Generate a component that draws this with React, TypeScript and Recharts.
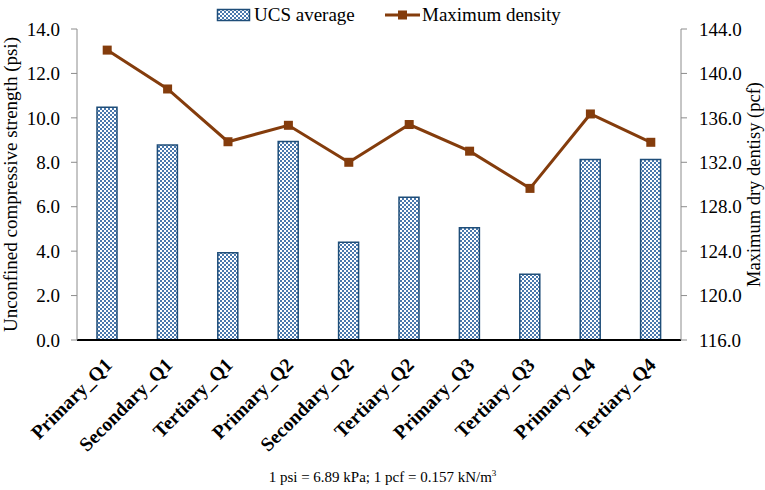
import { Bar, ComposedChart, Legend, Line, XAxis, YAxis } from "recharts";

const categories = [
  "Primary_Q1",
  "Secondary_Q1",
  "Tertiary_Q1",
  "Primary_Q2",
  "Secondary_Q2",
  "Tertiary_Q2",
  "Primary_Q3",
  "Tertiary_Q3",
  "Primary_Q4",
  "Tertiary_Q4",
];
const ucsAverage = [10.48, 8.78, 3.93, 8.94, 4.4, 6.43, 5.05, 2.96, 8.13, 8.13];
const maxDensity = [142.1, 138.6, 133.85, 135.33, 132.0, 135.4, 133.0, 129.65, 136.35, 133.8];
const leftTicks = [0, 2, 4, 6, 8, 10, 12, 14];
const rightTicks = [116, 120, 124, 128, 132, 136, 140, 144];

const data = categories.map((name, i) => ({
  name,
  ucs: ucsAverage[i],
  density: maxDensity[i],
}));

const FONT = "Liberation Serif, Times New Roman, serif";
const BAR_EDGE = "#1f4e79";
const BAR_DOT = "#4a78ad";
const LINE_COLOR = "#843c0c";
const AXIS_GRAY = "#8c8c8c";

function HatchDefs({ id }: { id: string }) {
  return (
    <defs>
      <pattern id={id} width="4" height="4" patternUnits="userSpaceOnUse">
        <rect width="4" height="4" fill="#ffffff" />
        <rect x="0" y="0" width="2" height="2" fill={BAR_DOT} />
        <rect x="2" y="2" width="2" height="2" fill={BAR_DOT} />
      </pattern>
    </defs>
  );
}

function SquareDot(props: any) {
  const { cx, cy, index } = props;
  if (cx == null || cy == null) return <g key={index} />;
  return <rect key={index} x={cx - 4.5} y={cy - 4.5} width={9} height={9} fill={LINE_COLOR} />;
}

function XTick(props: any) {
  const { x, y, payload } = props;
  const tx = x + 6;
  const ty = y + 18;
  return (
    <text
      x={tx}
      y={ty}
      transform={`rotate(-45, ${tx}, ${ty})`}
      textAnchor="end"
      fontFamily={FONT}
      fontWeight="bold"
      fontSize={19.5}
      fill="#000"
    >
      {payload.value}
    </text>
  );
}

function LegendBox() {
  return (
    <div style={{ position: "relative", width: 765, height: 26, fontFamily: FONT, fontSize: 19 }}>
      <svg width={765} height={26} style={{ position: "absolute", left: 0, top: 0 }}>
        <HatchDefs id="legendHatch" />
        <rect x={217.5} y={6.5} width={32} height={11} fill="url(#legendHatch)" stroke={BAR_EDGE} strokeWidth={1.5} />
        <line x1={385} y1={12} x2={420} y2={12} stroke={LINE_COLOR} strokeWidth={3} />
        <rect x={398} y={7.5} width={9} height={9} fill={LINE_COLOR} />
      </svg>
      <span style={{ position: "absolute", left: 254, top: 0, lineHeight: "24px", color: "#000" }}>UCS average</span>
      <span style={{ position: "absolute", left: 422, top: 0, lineHeight: "24px", color: "#000" }}>Maximum density</span>
    </div>
  );
}

function LeftLabel(props: any) {
  const { viewBox } = props;
  const x = viewBox.x + 10;
  const y = viewBox.y + viewBox.height / 2;
  return (
    <text
      x={x}
      y={y}
      transform={`rotate(-90, ${x}, ${y})`}
      textAnchor="middle"
      dominantBaseline="central"
      fontFamily={FONT}
      fontSize={19}
      fill="#000"
    >
      Unconfined compressive strength (psi)
    </text>
  );
}

function RightLabel(props: any) {
  const { viewBox } = props;
  const x = viewBox.x + viewBox.width - 11;
  const y = viewBox.y + viewBox.height / 2;
  return (
    <text
      x={x}
      y={y}
      transform={`rotate(-90, ${x}, ${y})`}
      textAnchor="middle"
      dominantBaseline="central"
      fontFamily={FONT}
      fontSize={18.5}
      fill="#000"
    >
      Maximum dry dentisy (pcf)
    </text>
  );
}

export default function App() {
  return (
    <div style={{ position: "absolute", left: 0, top: 0, width: 765, height: 490, background: "#fff" }}>
      <ComposedChart
        width={765}
        height={490}
        data={data}
        margin={{ top: 3, right: 0, bottom: 40, left: 0 }}
        barCategoryGap="34%"
      >
        <HatchDefs id="barHatch" />
        <Legend
          verticalAlign="top"
          content={() => <LegendBox />}
          wrapperStyle={{ left: 0, width: 765 }}
        />
        <XAxis
          dataKey="name"
          height={110}
          interval={0}
          tickLine={false}
          axisLine={{ stroke: "#000", strokeWidth: 2 }}
          tick={<XTick />}
        />
        <YAxis
          yAxisId="left"
          width={77}
          domain={[0, 14]}
          ticks={leftTicks}
          tickFormatter={(v: number) => v.toFixed(1)}
          axisLine={{ stroke: AXIS_GRAY }}
          tickLine={{ stroke: AXIS_GRAY }}
          tickSize={6}
          tickMargin={11}
          tick={{ fill: "#000", fontFamily: FONT, fontSize: 19 }}
          label={<LeftLabel />}
        />
        <YAxis
          yAxisId="right"
          orientation="right"
          width={84}
          domain={[116, 144]}
          ticks={rightTicks}
          tickFormatter={(v: number) => v.toFixed(1)}
          axisLine={{ stroke: AXIS_GRAY }}
          tickLine={{ stroke: AXIS_GRAY }}
          tickSize={6}
          tickMargin={12}
          tick={{ fill: "#000", fontFamily: FONT, fontSize: 19 }}
          label={<RightLabel />}
        />
        <Bar
          yAxisId="left"
          dataKey="ucs"
          name="UCS average"
          barSize={20}
          fill="url(#barHatch)"
          stroke={BAR_EDGE}
          strokeWidth={1.5}
          isAnimationActive={false}
        />
        <Line
          yAxisId="right"
          dataKey="density"
          name="Maximum density"
          type="linear"
          stroke={LINE_COLOR}
          strokeWidth={3}
          dot={<SquareDot />}
          activeDot={false}
          isAnimationActive={false}
        />
      </ComposedChart>
      <div
        style={{
          position: "absolute",
          left: 0,
          top: 468,
          width: 765,
          textAlign: "center",
          fontFamily: FONT,
          fontSize: 15,
          color: "#000",
        }}
      >
        1 psi = 6.89 kPa; 1 pcf = 0.157 kN/m<sup style={{ fontSize: 9 }}>3</sup>
      </div>
    </div>
  );
}
